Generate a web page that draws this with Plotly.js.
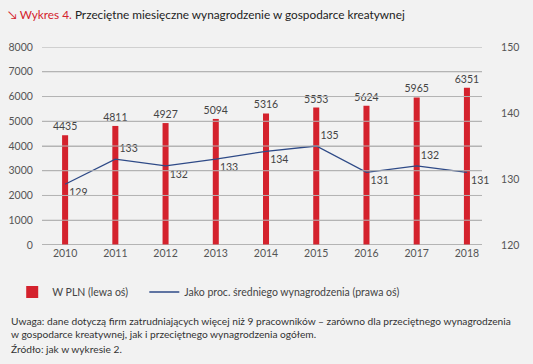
<!DOCTYPE html>
<html><head><meta charset="utf-8">
<script src="https://cdn.plot.ly/plotly-3.0.1.min.js"></script>
<style>html,body{margin:0;padding:0;background:#f2f2f2;}#chart{width:533px;height:364px;}</style>
</head><body><div id="chart"></div>
<script>
const years = ['2010','2011','2012','2013','2014','2015','2016','2017','2018'];
const plnValues = [4435, 4811, 4927, 5094, 5316, 5553, 5624, 5965, 6351];
const pctValues = [129.2, 133.0, 132.0, 133.0, 134.2, 135.0, 131.0, 132.0, 131.0];
const pctLabels = ['129','133','132','133','134','135','131','132','131'];
const pctLabelPos = ['bottom right','top right','bottom right','bottom right','bottom right','top right','bottom right','top right','bottom right'];
const leftTicks = [0,1000,2000,3000,4000,5000,6000,7000,8000];

const FONT = 'Lato, Open Sans, sans-serif';
const traces = [
  {type:'bar', x: years, y: plnValues, name:'W PLN (lewa oś)', legend:'legend',
   marker:{color:'#d4222d'}, width:0.12,
   text: plnValues.map(String), textposition:'outside', constraintext:'none',
   textfont:{size:10.5, color:'#444', family:FONT}, hoverinfo:'skip'},
  {type:'scatter', mode:'lines', x: years, y: pctValues, yaxis:'y2', name:'Jako proc. średniego wynagrodzenia (prawa oś)', legend:'legend2',
   line:{color:'#2e4a87', width:1.3}, cliponaxis:false, hoverinfo:'skip'},
  {type:'scatter', mode:'markers+text', x: years, y: pctValues, yaxis:'y2', showlegend:false,
   marker:{size:5, opacity:0}, text: pctLabels, textposition: pctLabelPos, cliponaxis:false,
   textfont:{size:10.5, color:'#444', family:FONT}, hoverinfo:'skip'}
];

const W = 533, H = 364, L = 39, R = 51, T = 47, B = 119;
const pw = W - L - R, ph = H - T - B;
const px = x => (x - L) / pw;
const py = y => (H - B - y) / ph;

const notes = [
  {y:321, text:'Uwaga: dane dotyczą firm zatrudniających więcej niż 9 pracowników – zarówno dla przeciętnego wynagrodzenia'},
  {y:334, text:'w gospodarce kreatywnej, jak i przeciętnego wynagrodzenia ogółem.'},
  {y:349, text:'Źródło: jak w wykresie 2.'}
].map(n => ({xref:'paper', yref:'paper', x:px(6), y:py(n.y), xanchor:'left', yanchor:'middle', showarrow:false, align:'left',
  text:n.text, font:{size:10.2, color:'#333', family:FONT}}));

const gridShapes = leftTicks.map(v => ({type:'line', xref:'paper', x0:0, x1:1, yref:'y', y0:v, y1:v,
  line:{color:'#b4b4b4', width:1}, layer:'above'}));

const layout = {
  width: W, height: H,
  margin:{l:L, r:R, t:T, b:B, pad:0},
  paper_bgcolor:'#f2f2f2', plot_bgcolor:'rgba(0,0,0,0)',
  font:{family:FONT, size:10.5, color:'#555'},
  title:{text:'<span style="color:#d4222d">↘ Wykres 4.</span> <span style="color:#222">Przeciętne miesięczne wynagrodzenie w gospodarce kreatywnej</span>',
         x: 8/W, xanchor:'left', xref:'container', y: 1 - 15/H, yanchor:'middle', yref:'container',
         font:{family:FONT, size:11.8, color:'#222'}},
  showlegend:true,
  xaxis:{type:'category', range:[-0.46, 8.3], showgrid:false, zeroline:false, showline:false,
         ticks:'', tickfont:{size:10.5, color:'#555'}},
  yaxis:{range:[-2,8002], dtick:1000, tick0:0, showgrid:true, gridcolor:'#b4b4b4', gridwidth:1,
         zeroline:true, zerolinecolor:'#b4b4b4', zerolinewidth:1, showline:false, ticks:'outside', ticklen:6, tickcolor:'rgba(0,0,0,0)', tickfont:{size:10.5, color:'#555'}},
  yaxis2:{range:[120,150], dtick:10, tick0:120, overlaying:'y', side:'right', showgrid:false,
          zeroline:false, showline:false, ticks:'outside', ticklen:16, tickcolor:'rgba(0,0,0,0)', tickfont:{size:10.5, color:'#555'}},
  legend:{orientation:'h', x:px(9), xanchor:'left', y:py(292), yanchor:'middle', bgcolor:'rgba(0,0,0,0)', itemwidth:30,
          font:{size:10.5, color:'#444'}},
  legend2:{orientation:'h', x:px(142), xanchor:'left', y:py(292), yanchor:'middle', bgcolor:'rgba(0,0,0,0)', itemwidth:30,
          font:{size:10.5, color:'#444'}},
  shapes: gridShapes,
  annotations: notes
};
Plotly.newPlot('chart', traces, layout, {displayModeBar:false, staticPlot:true}).then(() => {
  document.querySelectorAll('.subplot.xy > .gridlayer, .subplot.xy > .zerolinelayer').forEach(e => e.removeAttribute('clip-path'));
});
</script></body></html>
